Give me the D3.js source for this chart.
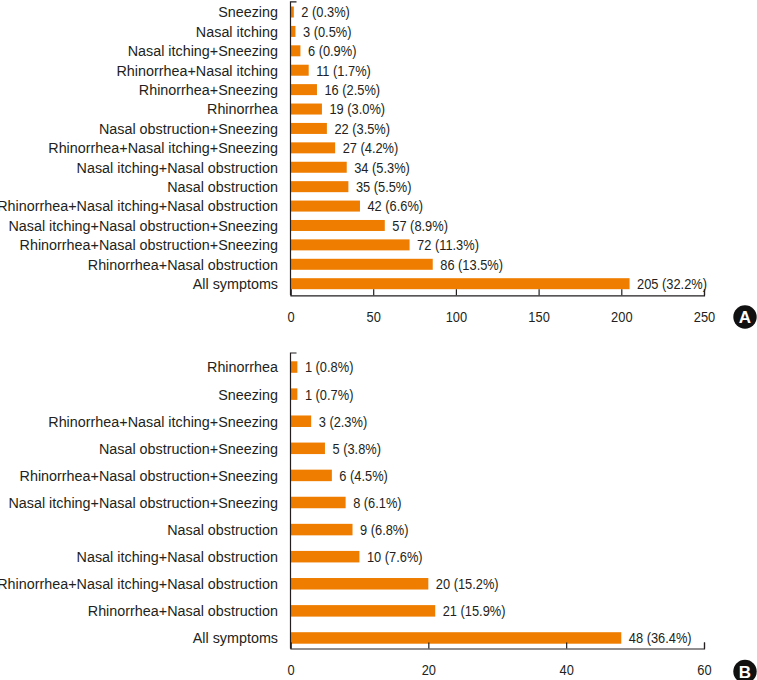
<!DOCTYPE html>
<html>
<head>
<meta charset="utf-8">
<script src="https://cdn.jsdelivr.net/npm/d3@7"></script>
<style>
  body { margin: 0; background: #fff; }
  text { font-family: "Liberation Sans", Arial, sans-serif; fill: #231f20; }
</style>
</head>
<body>
<div id="chart"></div>
<script>
// panel A
let labelsA = ["Sneezing", "Nasal itching", "Nasal itching+Sneezing", "Rhinorrhea+Nasal itching",
  "Rhinorrhea+Sneezing", "Rhinorrhea", "Nasal obstruction+Sneezing", "Rhinorrhea+Nasal itching+Sneezing",
  "Nasal itching+Nasal obstruction", "Nasal obstruction", "Rhinorrhea+Nasal itching+Nasal obstruction",
  "Nasal itching+Nasal obstruction+Sneezing", "Rhinorrhea+Nasal obstruction+Sneezing",
  "Rhinorrhea+Nasal obstruction", "All symptoms"];
let countsA = [2, 3, 6, 11, 16, 19, 22, 27, 34, 35, 42, 57, 72, 86, 205];
let pctA = ["0.3", "0.5", "0.9", "1.7", "2.5", "3.0", "3.5", "4.2", "5.3", "5.5", "6.6", "8.9", "11.3", "13.5", "32.2"];
let ticksA = [0, 50, 100, 150, 200, 250];

// panel B
let labelsB = ["Rhinorrhea", "Sneezing", "Rhinorrhea+Nasal itching+Sneezing", "Nasal obstruction+Sneezing",
  "Rhinorrhea+Nasal obstruction+Sneezing", "Nasal itching+Nasal obstruction+Sneezing", "Nasal obstruction",
  "Nasal itching+Nasal obstruction", "Rhinorrhea+Nasal itching+Nasal obstruction",
  "Rhinorrhea+Nasal obstruction", "All symptoms"];
let countsB = [1, 1, 3, 5, 6, 8, 9, 10, 20, 21, 48];
let pctB = ["0.8", "0.7", "2.3", "3.8", "4.5", "6.1", "6.8", "7.6", "15.2", "15.9", "36.4"];
let ticksB = [0, 20, 40, 60];

let width = 757, height = 680;
let barColor = "#ee7d00";
let axisColor = "#231f20";
let fontSize = 15;

let svg = d3.select("#chart").append("svg")
  .attr("width", width)
  .attr("height", height);

// the reference uses a condensed face; work out how much to squeeze Liberation Sans
function squeezeFactor(sample, size, target) {
  let probe = svg.append("text").attr("font-size", size).text(sample);
  let k = target / probe.node().getComputedTextLength();
  probe.remove();
  return k;
}
let kLabel = squeezeFactor("Rhinorrhea+Nasal itching+Nasal obstruction", fontSize, 281);
let kValue = squeezeFactor("205 (32.2%)", fontSize, 70);
let kTick = squeezeFactor("150", 15.5, 21.5);

function drawPanel(opts) {
  let g = svg.append("g");
  let x = d3.scaleLinear().domain([0, opts.max]).range([290.5, 704]);
  let y = d3.scaleBand().domain(opts.labels).range([opts.top, opts.bottom]);
  let data = opts.labels.map((d, i) => ({ label: d, v: opts.counts[i], p: opts.pct[i] }));

  g.selectAll("rect.bar")
    .data(data)
    .enter()
    .append("rect")
    .attr("class", "bar")
    .attr("x", x(0))
    .attr("y", (d) => y(d.label) + y.bandwidth() / 2 - opts.barH / 2)
    .attr("width", (d) => x(d.v) - x(0))
    .attr("height", opts.barH)
    .attr("fill", barColor);

  g.selectAll("text.val")
    .data(data)
    .enter()
    .append("text")
    .attr("class", "val")
    .attr("x", (d) => x(d.v) + 7.5)
    .attr("y", (d) => y(d.label) + y.bandwidth() / 2)
    .attr("dy", ".36em")
    .attr("font-size", fontSize)
    .text((d) => `${d.v} (${d.p}%)`);

  // category labels
  let yAxis = g.append("g")
    .attr("transform", `translate(${x(0)},0)`)
    .call(d3.axisLeft(y).tickSize(0).tickPadding(12.5));
  yAxis.select(".domain").remove();
  yAxis.selectAll("text").attr("class", "cat").attr("dy", ".36em")
    .attr("font-size", fontSize).attr("font-family", null).attr("fill", axisColor);

  // y axis line with small top tick
  g.append("path")
    .attr("d", `M${x(0) + 6},${opts.top - 0.5}H${x(0)}V${opts.axisY}`)
    .attr("fill", "none")
    .attr("stroke", axisColor)
    .attr("stroke-width", 1.2);

  let xAxis = g.append("g")
    .attr("transform", `translate(0,${opts.axisY})`)
    .call(d3.axisBottom(x).tickValues(opts.ticks).tickSizeInner(-6).tickSizeOuter(-6).tickPadding(15.5));
  xAxis.selectAll("path, line").attr("stroke", axisColor).attr("stroke-width", 1.2);
  xAxis.selectAll("text").attr("class", "tick-label")
    .attr("font-size", 15.5).attr("font-family", null).attr("fill", axisColor);

  // panel badge
  let badge = g.append("g").attr("transform", `translate(745,${opts.badgeY})`);
  badge.append("circle").attr("r", 11.7).attr("fill", "#111");
  badge.append("text")
    .attr("text-anchor", "middle")
    .attr("dy", ".36em")
    .attr("font-size", 17)
    .attr("font-weight", "bold")
    .style("fill", "#fff")
    .text(opts.badge);
}

drawPanel({
  labels: labelsA, counts: countsA, pct: pctA, ticks: ticksA, max: 250,
  top: 2.3, bottom: 293.4, axisY: 295.3, barH: 11, badgeY: 317, badge: "A"
});
drawPanel({
  labels: labelsB, counts: countsB, pct: pctB, ticks: ticksB, max: 60,
  top: 353.5, bottom: 651.5, axisY: 648.5, barH: 11.5, badgeY: 671.5, badge: "B"
});

// apply the horizontal squeeze, keeping each text's anchor point in place
function squeeze(sel, k) {
  sel.each(function () {
    let t = d3.select(this);
    let x0 = +t.attr("x") || 0;
    t.attr("x", x0 / k).attr("transform", `scale(${k},1)`);
  });
}
squeeze(svg.selectAll("text.cat"), kLabel);
squeeze(svg.selectAll("text.val"), kValue);
squeeze(svg.selectAll("text.tick-label"), kTick);
</script>
</body>
</html>
